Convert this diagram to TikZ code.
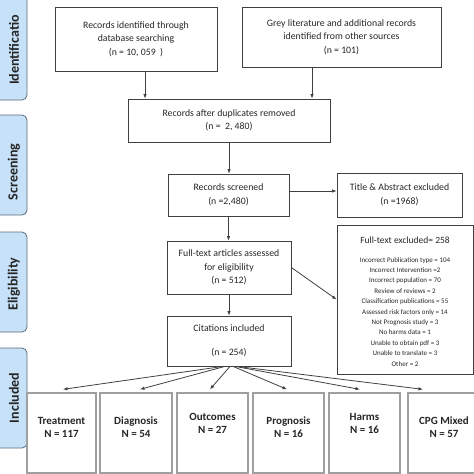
\documentclass[tikz,border=0pt]{standalone}
\usepackage{fontspec}
\setmainfont{Carlito}
\usetikzlibrary{arrows.meta,calc}
\definecolor{linec}{HTML}{404040}
\definecolor{sidefill}{HTML}{C6E1F8}
\definecolor{sidedraw}{HTML}{5B6B7B}
\begin{document}
\begin{tikzpicture}[x=1pt,y=-1pt,
  box/.style={draw=linec,line width=0.8pt,align=center,inner sep=0pt,text=black!85,
    font=\fontsize{9.8}{13.5}\selectfont},
  bot/.style={draw=gray!75,line width=1.3pt,inner sep=0pt,minimum height=80pt},
  botlab/.style={align=center,font=\fontsize{11}{13}\selectfont\bfseries,text=black!85,inner sep=0pt},
  side/.style={draw=sidedraw,fill=sidefill,rounded corners=5pt,line width=0.8pt,inner sep=0pt,
    minimum width=37pt},
  sidelab/.style={rotate=90,font=\fontsize{14}{16}\selectfont\bfseries,text=black!85,inner sep=0pt},
  arr/.style={draw=linec,line width=0.8pt,-{Latex[length=4.5pt,width=3.5pt]}}]
\useasboundingbox (0,0) rectangle (474,474);
% side labels
\node[side,minimum height=110pt] (s1) at (8.5,45) {};
\node[sidelab] (t1) at (14,50) {Identificatio};
\node[side,minimum height=100pt] (s2) at (8.5,165) {};
\node[sidelab] (t2) at (14,172) {Screening};
\node[side,minimum height=100pt] (s3) at (8.5,282) {};
\node[sidelab] (t3) at (14,284) {Eligibility};
\node[side,minimum height=100pt] (s4) at (8.5,398) {};
\node[sidelab] (t4) at (14,398) {Included};
% main boxes
\node[box,minimum width=162pt,minimum height=64pt] (b1) at (136,39)
  {Records identified through\\database searching\\(n = 10, 059~~)};
\node[box,minimum width=199pt,minimum height=60pt] (b2) at (341.5,37)
  {Grey literature and additional records\\identified from other sources\\(n = 101)};
\node[box,minimum width=202pt,minimum height=43pt] (b3) at (229,120.5)
  {Records after duplicates removed\\(n =~~2, 480)};
\node[box,minimum width=121pt,minimum height=42pt] (b4) at (228.5,195)
  {Records screened\\(n =2,480)};
\node[box,minimum width=125pt,minimum height=44pt] (b5) at (399.5,195)
  {Title \& Abstract excluded\\(n =1968)};
\node[box,minimum width=124pt,minimum height=53pt] (b6) at (229,267.5)
  {Full-text articles assessed\\for eligibility\\(n = 512)};
\node[box,minimum width=136pt,minimum height=149pt] (b7) at (405,299.5) {};
\node[align=center,inner sep=0pt,text=black!85,font=\fontsize{9.5}{12}\selectfont] (b7t) at (405,240)
  {Full-text excluded= 258};
\node[align=center,inner sep=0pt,text=black!85,font=\fontsize{7}{10.4}\selectfont,anchor=north] (b7l) at (405,257)
  {Incorrect Publication type = 104\\
   Incorrect Intervention =2\\
   Incorrect population = 70\\
   Review of reviews = 2\\
   Classification publications = 55\hspace*{36pt}\\
   Assessed risk factors only = 14\\
   Not Prognosis study = 3\\
   No harms data = 1\\
   Unable to obtain pdf = 3\\
   Unable to translate = 3\\
   Other = 2};
\node[box,minimum width=124pt,minimum height=50pt] (b8) at (229,341)
  {Citations included\\[11pt](n = 254)};
% bottom boxes
\node[bot,minimum width=69pt] (c1) at (61.5,433) {};
\node[botlab] (l1) at (61.5,427) {Treatment\\N = 117};
\node[bot,minimum width=72pt] (c2) at (136,433) {};
\node[botlab] (l2) at (136,427) {Diagnosis\\N = 54};
\node[bot,minimum width=71pt] (c3) at (212.5,433) {};
\node[botlab] (l3) at (212.5,423) {Outcomes\\N = 27};
\node[bot,minimum width=71pt] (c4) at (288.5,433) {};
\node[botlab] (l4) at (288.5,427) {Prognosis\\N = 16};
\node[bot,minimum width=71pt] (c5) at (364.5,433) {};
\node[botlab] (l5) at (364.5,423) {Harms\\N = 16};
\node[bot,minimum width=72pt] (c6) at (444,433) {};
\node[botlab] (l6) at (444,427) {CPG Mixed\\N = 57};
% connectors
\draw[arr] ([xshift=9pt]b1.south) -- ([xshift=9pt]b1.south |- b3.north);
\draw[arr] ([xshift=-29.5pt]b2.south) -- ([xshift=-29.5pt]b2.south |- b3.north);
\draw[arr] (b3.south) -- (b3.south |- b4.north);
\draw[arr] ([yshift=4pt]b4.east) -- ([yshift=4pt]b4.east -| b5.west);
\draw[arr] (b4.south) -- (b4.south |- b6.north);
\draw[arr] (b6.east) -- (b7.west);
\draw[arr] (b6.south) -- (b6.south |- b8.north);
\draw[arr] ([xshift=-6pt]b8.south) -- ([xshift=1.5pt,yshift=3pt]c1.north);
\draw[arr] ([xshift=-4pt]b8.south) -- ([xshift=4pt,yshift=3pt]c2.north);
\draw[arr] ([xshift=1pt]b8.south) -- ([xshift=-2.5pt,yshift=3pt]c3.north);
\draw[arr] ([xshift=4pt]b8.south) -- ([xshift=-1.5pt,yshift=3pt]c4.north);
\draw[arr] ([xshift=6pt]b8.south) -- ([xshift=-4.5pt,yshift=3pt]c5.north);
\draw[arr] ([xshift=8pt]b8.south) -- ([xshift=-21pt,yshift=3pt]c6.north);
\end{tikzpicture}
\end{document}
